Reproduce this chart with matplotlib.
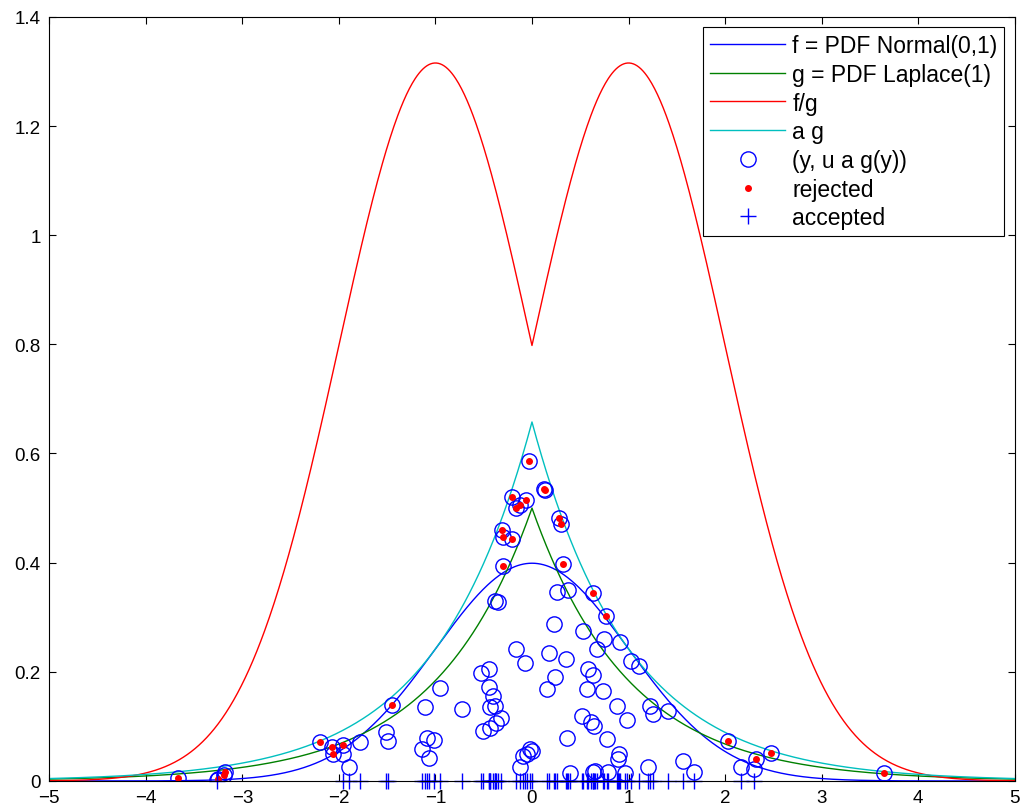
import numpy as np
import matplotlib
matplotlib.use("Agg")
import matplotlib.pyplot as plt

plt.rcParams['font.family'] = ['Liberation Sans', 'DejaVu Sans']

# proposals that were accepted (y, u a g(y))
acc_x = [-0.38, -0.355, 0.26, 0.376, 0.23, 0.525, 0.745, 0.91, 0.67, 0.18,
         -0.07, 0.35, 1.025, 1.108, 0.583, 0.635, 0.238, 0.158, 0.566, 0.74,
         0.883, 1.22, 1.256, 1.405, 0.514, 0.607, 0.642, 0.987, 0.36, 0.78,
         -0.02, 0.0, -0.055, -0.09, -0.124, 0.90, 0.89, 1.20, 0.39, 0.65,
         0.635, 0.79, 0.96, -0.166, -0.53, -0.44, -0.95, -0.45, -0.40, -1.108,
         -0.728, -0.435, -0.383, -0.324, -0.373, -0.435, -0.504, -1.09, -1.015, -1.14,
         -1.07, 1.566, 1.68, 2.17, 2.30, -1.96, -1.78, -1.89, -1.51, -1.49,
         -3.26]
acc_y = [0.329, 0.327, 0.347, 0.349, 0.288, 0.275, 0.261, 0.255, 0.241, 0.235,
         0.217, 0.224, 0.219, 0.210, 0.205, 0.194, 0.190, 0.169, 0.169, 0.164,
         0.138, 0.138, 0.123, 0.129, 0.119, 0.108, 0.101, 0.112, 0.078, 0.076,
         0.059, 0.054, 0.049, 0.046, 0.025, 0.049, 0.040, 0.025, 0.015, 0.019,
         0.016, 0.016, 0.015, 0.241, 0.198, 0.205, 0.170, 0.172, 0.155, 0.135,
         0.132, 0.135, 0.137, 0.115, 0.107, 0.097, 0.091, 0.078, 0.075, 0.059,
         0.042, 0.037, 0.016, 0.025, 0.021, 0.049, 0.071, 0.025, 0.090, 0.074,
         0.001]

# proposals that were rejected
rej_x = [-0.03, -0.21, -0.166, -0.12, -0.065, -0.31, -0.30, -0.21, -0.30, 0.124,
         0.14, 0.28, 0.30, 0.32, 0.628, 0.766, 2.026, 2.32, 2.48, 3.647,
         -3.668, -3.25, -3.19, -3.18, -2.195, -2.07, -2.06, -1.96, -1.45]
rej_y = [0.587, 0.520, 0.500, 0.506, 0.514, 0.459, 0.447, 0.443, 0.393, 0.535,
         0.533, 0.481, 0.471, 0.398, 0.345, 0.303, 0.074, 0.040, 0.051, 0.015,
         0.005, 0.003, 0.011, 0.016, 0.071, 0.062, 0.049, 0.066, 0.139]


def main():
    x = np.linspace(-5, 5, 1001)
    f = np.exp(-x**2 / 2) / np.sqrt(2 * np.pi)
    g = 0.5 * np.exp(-np.abs(x))
    a = np.sqrt(2 * np.e / np.pi)

    fig = plt.figure(figsize=(10.25, 8.12), dpi=100)
    ax = fig.add_axes([0.048, 0.037, 0.942, 0.941])

    ax.plot(x, f, color=(0, 0, 1), lw=1.0, label="f = PDF Normal(0,1)")
    ax.plot(x, g, color=(0, 0.5, 0), lw=1.0, label="g = PDF Laplace(1)")
    ax.plot(x, f / g, color=(1, 0, 0), lw=1.0, label="f/g")
    ax.plot(x, a * g, color=(0, 0.75, 0.75), lw=1.0, label="a g")

    all_x = acc_x + rej_x
    all_y = acc_y + rej_y
    ax.plot(all_x, all_y, 'o', mfc='none', mec=(0, 0, 1), ms=11, mew=1.0,
            label="(y, u a g(y))")
    ax.plot(rej_x, rej_y, '.', color=(1, 0, 0), ms=8, label="rejected")
    ax.plot(acc_x, np.zeros(len(acc_x)), '+', color=(0, 0, 1), ms=11, mew=1.0,
            clip_on=False, label="accepted")

    ax.set_xlim(-5, 5)
    ax.set_ylim(0, 1.4)
    ax.set_xticks(np.arange(-5, 6, 1))
    ax.set_yticks([0, 0.2, 0.4, 0.6, 0.8, 1, 1.2, 1.4])
    ax.set_yticklabels(["0", "0.2", "0.4", "0.6", "0.8", "1", "1.2", "1.4"])
    ax.tick_params(direction='in', length=5, width=0.8, top=True, right=True,
                   labelsize=13.5, pad=6)
    for s in ax.spines.values():
        s.set_linewidth(0.8)

    leg = ax.legend(loc='upper right', fontsize=16.5, fancybox=False,
                    edgecolor='black', framealpha=1, borderaxespad=0.45,
                    handlelength=3.3, handletextpad=0.3, labelspacing=0.25,
                    borderpad=0.3)
    leg.get_frame().set_linewidth(0.8)

    fig.savefig("out.png", dpi=100)


if __name__ == '__main__':
    main()
